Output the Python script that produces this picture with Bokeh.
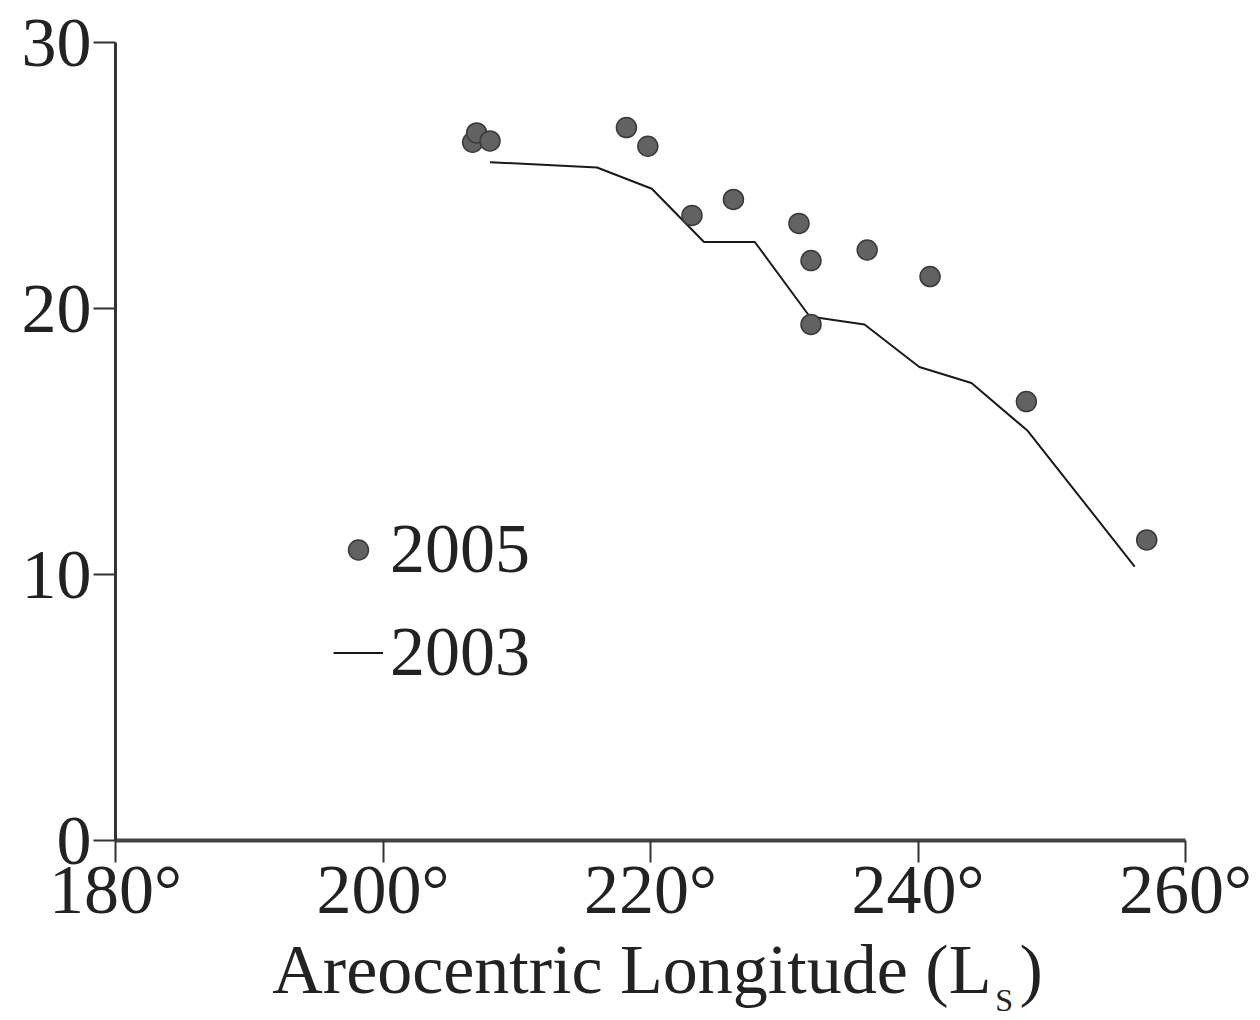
from bokeh.plotting import figure
from bokeh.models import Legend, LegendItem, FixedTicker, Range1d, LinearAxis
from bokeh.embed import file_html
from bokeh.resources import INLINE

# 2005 observations (areocentric longitude, value)
ls_2005 = [206.7, 207.0, 208.0, 218.2, 219.8, 223.1, 226.2, 231.1, 232.0, 232.0, 236.2, 240.9, 248.1, 257.1]
val_2005 = [26.25, 26.6, 26.3, 26.8, 26.1, 23.5, 24.1, 23.2, 21.8, 19.4, 22.2, 21.2, 16.5, 11.3]

# 2003 curve
ls_2003 = [208.0, 216.0, 220.1, 224.0, 227.8, 231.9, 236.0, 240.1, 244.0, 248.2, 256.2]
val_2003 = [25.5, 25.3, 24.5, 22.5, 22.5, 19.7, 19.4, 17.8, 17.2, 15.4, 10.3]

x_ticks = [180, 200, 220, 240, 260]
x_tick_labels = ["180°", "200°", "220°", "240°", "260°"]
y_ticks = [0, 10, 20, 30]

x_title = "\u2009Areocentric Longitude (L\u2009\u2009)"
x_title_sub = "S"
x_title_sub_at = 246.45

FONT = "Liberation Serif"
INK = "#222222"

p = figure(width=1260, height=1020, output_backend="svg", toolbar_location=None,
           x_range=Range1d(180, 260), y_range=Range1d(0, 30),
           min_border_left=115, min_border_right=75, min_border_top=42, min_border_bottom=177)
p.outline_line_color = None
p.xgrid.grid_line_color = None
p.ygrid.grid_line_color = None
p.background_fill_color = "white"
p.border_fill_color = "white"

p.xaxis.ticker = FixedTicker(ticks=x_ticks)
p.xaxis.major_label_overrides = {t: l for t, l in zip(x_ticks, x_tick_labels)}
p.yaxis.ticker = FixedTicker(ticks=y_ticks)
for ax in (p.xaxis[0], p.yaxis[0]):
    ax.minor_tick_line_color = None
    ax.major_label_text_font = FONT
    ax.major_label_text_font_size = "70px"
    ax.major_label_text_color = INK
    ax.major_tick_in = 0
    ax.major_tick_line_color = "#333333"
    ax.major_tick_line_width = 2
p.xaxis.axis_line_width = 4
p.xaxis.axis_line_color = "#444444"
p.xaxis.major_tick_out = 22
p.xaxis.major_label_standoff = -12
p.xaxis.axis_label = x_title
p.xaxis.axis_label_text_font = FONT
p.xaxis.axis_label_text_font_size = "70px"
p.xaxis.axis_label_text_font_style = "normal"
p.xaxis.axis_label_text_color = INK
p.xaxis.axis_label_standoff = 0
p.yaxis.axis_line_width = 3
p.yaxis.axis_line_color = "#333333"
p.yaxis.major_tick_out = 22
p.yaxis.major_label_standoff = 2

# subscript "S" of the axis title, drawn as the only label of a bare extra axis
sub_ax = LinearAxis(ticker=FixedTicker(ticks=[x_title_sub_at]),
                    major_label_overrides={x_title_sub_at: x_title_sub},
                    axis_line_color=None, major_tick_line_color=None, minor_tick_line_color=None,
                    major_tick_out=0, major_tick_in=0, major_label_standoff=-29,
                    major_label_text_font=FONT, major_label_text_font_size="32px",
                    major_label_text_color=INK)
p.add_layout(sub_ax, "below")

line_r = p.line(ls_2003, val_2003, line_color="#1a1a1a", line_width=2)
pts_r = p.scatter(ls_2005, val_2005, size=20, fill_color="#626262", line_color="#3a3a3a", line_width=1.5)

legend = Legend(items=[LegendItem(label="2005", renderers=[pts_r]),
                       LegendItem(label="2003", renderers=[line_r])],
                location=(218, 148), orientation="vertical",
                label_text_font=FONT, label_text_font_size="70px", label_text_color=INK,
                glyph_width=50, glyph_height=55, label_standoff=7, spacing=23,
                padding=0, margin=0, background_fill_alpha=0, border_line_alpha=0)
p.add_layout(legend, "center")

open("out.html", "w").write(file_html(p, INLINE))
